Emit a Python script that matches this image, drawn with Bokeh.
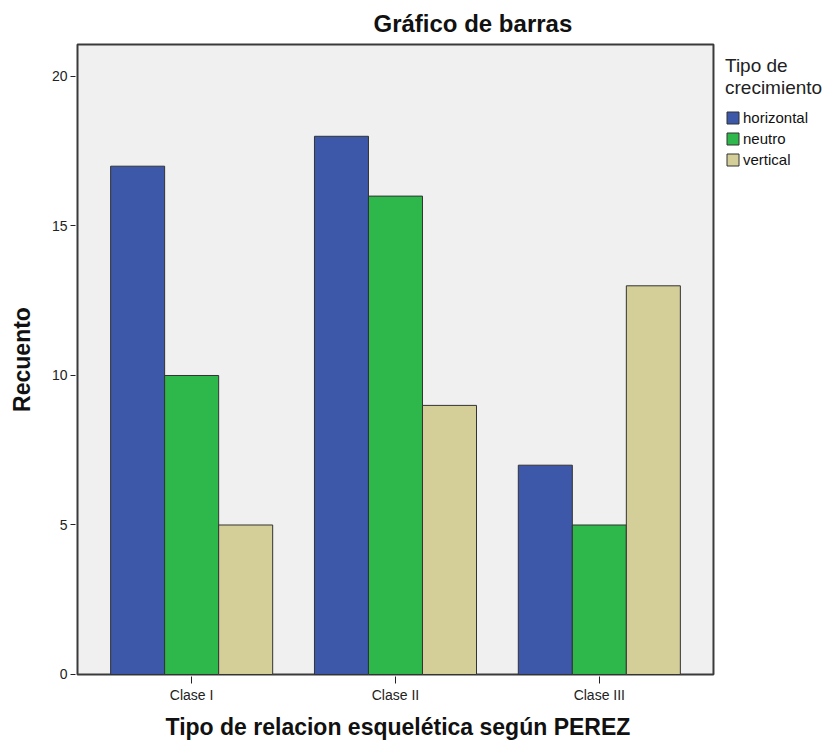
from bokeh.plotting import figure
from bokeh.models import (ColumnDataSource, Range1d, Legend, LegendItem, FixedTicker,
                          BoxAnnotation, Title)
from bokeh.transform import dodge
from bokeh.embed import file_html
from bokeh.resources import INLINE

# ---- data ----
categories = ["Clase I", "Clase II", "Clase III"]
horizontal = [17, 18, 7]
neutro = [10, 16, 5]
vertical = [5, 9, 13]
series_names = ["horizontal", "neutro", "vertical"]
y_ticks = [0, 5, 10, 15, 20]

colors = ["#3D57A9", "#2EB84B", "#D4CF99"]
offsets = [-0.265, 0.0, 0.265]
FONT = "Liberation Sans"

x_pos = list(range(1, len(categories) + 1))
source = ColumnDataSource(dict(x=x_pos, cat=categories, horizontal=horizontal,
                               neutro=neutro, vertical=vertical))

# data area spans 0.44..3.56 x 0..21.07; the frame is a little larger so the
# panel outline is not clipped, and continues to the right to hold the legend
p = figure(width=831, height=745,
           x_range=Range1d(0.4302, 4.139),
           y_range=Range1d(-0.0669, 21.137),
           output_backend="svg", toolbar_location=None,
           title="Gráfico de barras",
           min_border_left=75, min_border_right=0,
           min_border_top=42, min_border_bottom=69)

p.background_fill_color = "white"
p.border_fill_color = "white"
p.outline_line_color = None
p.xgrid.visible = False
p.ygrid.visible = False

panel = BoxAnnotation(left=0.44, right=3.56, bottom=0, top=21.07,
                      fill_color="#F0F0F0", fill_alpha=1,
                      line_color="#3a3a3a", line_alpha=1, line_width=2,
                      level="underlay")
p.add_layout(panel)

renderers = []
for name, color, off in zip(series_names, colors, offsets):
    r = p.vbar(x=dodge("x", off), top=name, width=0.265,
               source=source, fill_color=color, line_color="#333333", line_width=1)
    renderers.append(r)

legend = Legend(items=[LegendItem(label=n, renderers=[r]) for n, r in zip(series_names, renderers)],
                location=(650, 507), title="Tipo de\ncrecimiento",
                margin=0, padding=8, spacing=1,
                border_line_color=None, background_fill_alpha=0,
                title_text_font=FONT, title_text_font_style="normal",
                title_text_font_size="19px", title_text_color="#222222",
                title_standoff=8,
                label_text_font=FONT, label_text_font_size="15px",
                label_text_color="#111111",
                label_height=20, glyph_height=15, glyph_width=15,
                label_standoff=3)
p.add_layout(legend)

# title
p.title.text_font = FONT
p.title.text_font_size = "24px"
p.title.text_font_style = "bold"
p.title.text_color = "#111111"
p.title.align = "left"
p.title.offset = 298
p.title.standoff = 11

# axes
p.xaxis.ticker = FixedTicker(ticks=x_pos)
p.xaxis.major_label_overrides = {x: c for x, c in zip(x_pos, categories)}
p.yaxis.ticker = FixedTicker(ticks=y_ticks)
for ax in (p.xaxis[0], p.yaxis[0]):
    ax.axis_line_color = None
    ax.major_tick_line_color = "#222222"
    ax.major_tick_in = 0
    ax.minor_tick_in = 0
    ax.minor_tick_out = 0
    ax.major_label_text_font = FONT
    ax.major_label_text_font_size = "14px"
    ax.major_label_text_color = "#222222"
    ax.axis_label_text_font = FONT
    ax.axis_label_text_font_size = "23px"
    ax.axis_label_text_font_style = "bold"
    ax.axis_label_text_color = "#111111"

p.xaxis.major_tick_out = 7
p.xaxis.major_label_standoff = 3

p.yaxis.axis_label = "Recuento"
p.yaxis.major_tick_out = 5
p.yaxis.major_label_standoff = 3
p.yaxis.axis_label_standoff = 14

xlabel = Title(text="Tipo de relacion esquelética según PEREZ", align="left", offset=90,
               text_font=FONT, text_font_size="23px", text_font_style="bold",
               text_color="#111111", standoff=12)
p.add_layout(xlabel, "below")

open("out.html", "w").write(file_html(p, INLINE))
